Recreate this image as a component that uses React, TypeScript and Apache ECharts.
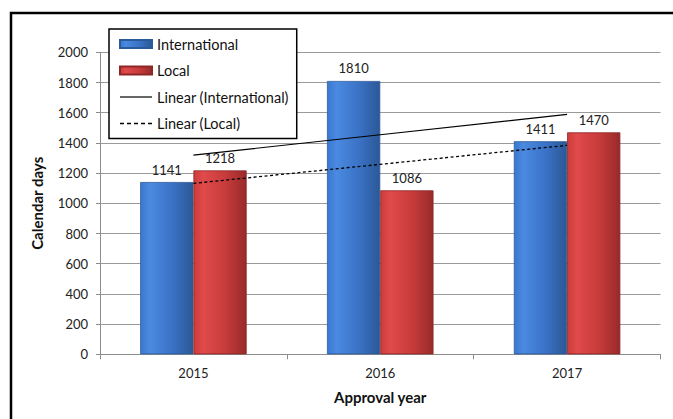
import React, { useEffect, useRef } from "react";
import * as echarts from "echarts";

const years = ["2015", "2016", "2017"];
const international = [1141, 1810, 1411];
const local = [1218, 1086, 1470];
// trend line values at each category centre
const trendInternational = [1319, 1454, 1589];
const trendLocal = [1132, 1258, 1384];
const yTicks = [0, 2000, 200];

const FONT = "Lato";

const blueGrad = new echarts.graphic.LinearGradient(0, 0, 1, 0, [
  { offset: 0, color: "#3a78cf" },
  { offset: 0.18, color: "#4a8ae0" },
  { offset: 0.6, color: "#3a72c6" },
  { offset: 1, color: "#2b5896" },
]);
const redGrad = new echarts.graphic.LinearGradient(0, 0, 1, 0, [
  { offset: 0, color: "#cc3b3b" },
  { offset: 0.18, color: "#e04a4a" },
  { offset: 0.6, color: "#c83b3b" },
  { offset: 1, color: "#982a2a" },
]);

const solidIcon = "path://M0,0H32V1.2H0Z";
const dashedIcon =
  "path://M0,0h4v1.3h-4zM7,0h4v1.3h-4zM14,0h4v1.3h-4zM21,0h4v1.3h-4zM28,0h4v1.3h-4z";

export default function App() {
  const ref = useRef<HTMLDivElement>(null);
  useEffect(() => {
    if (!ref.current) return;
    const chart = echarts.init(ref.current, null, { renderer: "svg" });
    const labelStyle = {
      show: true,
      position: "top",
      distance: 6,
      fontFamily: FONT,
      fontSize: 13,
      color: "#222",
    };
    chart.setOption({
      animation: false,
      backgroundColor: "#fff",
      textStyle: { fontFamily: FONT },
      grid: { left: 100, right: 12.5, top: 52.3, bottom: 64.7 },
      legend: {
        orient: "vertical",
        left: 109,
        top: 29,
        padding: [7, 8, 7, 10],
        itemGap: 10.5,
        itemWidth: 32,
        itemHeight: 8,
        symbolKeepAspect: true,
        backgroundColor: "#fff",
        borderColor: "#000",
        borderWidth: 1.5,
        borderRadius: 0,
        textStyle: { fontFamily: FONT, fontSize: 14.5, color: "#111", lineHeight: 16 },
        data: [
          { name: "International", icon: "rect" },
          { name: "Local", icon: "rect" },
          { name: "Linear (International)", icon: solidIcon },
          { name: "Linear (Local)", icon: dashedIcon },
        ],
      },
      xAxis: {
        type: "category",
        data: years,
        name: "Approval year",
        nameLocation: "middle",
        nameGap: 35,
        nameTextStyle: { fontFamily: FONT, fontSize: 15, fontWeight: "bold", color: "#111" },
        axisLine: { lineStyle: { color: "#8c8c8c", width: 1 } },
        axisTick: { show: true, length: 5, lineStyle: { color: "#8c8c8c" } },
        axisLabel: { margin: 12, fontFamily: FONT, fontSize: 13, color: "#222" },
      },
      yAxis: {
        type: "value",
        min: yTicks[0],
        max: yTicks[1],
        interval: yTicks[2],
        name: "Calendar days",
        nameLocation: "middle",
        nameGap: 56,
        nameRotate: 90,
        nameTextStyle: { fontFamily: FONT, fontSize: 15, fontWeight: "bold", color: "#111" },
        axisLine: { show: true, lineStyle: { color: "#8c8c8c", width: 1 } },
        axisTick: { show: true, length: 4, lineStyle: { color: "#8c8c8c" } },
        axisLabel: {
          margin: 12,
          fontFamily: FONT,
          fontSize: 13,
          color: "#222",
          formatter: (v: number) => String(v),
        },
        splitLine: { lineStyle: { color: "#9a9a9a", width: 1 } },
      },
      series: [
        {
          name: "International",
          type: "bar",
          data: international,
          barGap: "0%",
          barCategoryGap: "43%",
          itemStyle: { color: blueGrad, borderColor: "#2c5a98", borderWidth: 0.8 },
          label: labelStyle,
        },
        {
          name: "Local",
          type: "bar",
          data: local,
          itemStyle: { color: redGrad, borderColor: "#8e2626", borderWidth: 0.8 },
          label: labelStyle,
        },
        {
          name: "Linear (International)",
          type: "line",
          data: trendInternational,
          symbol: "none",
          itemStyle: { color: "#000" },
          lineStyle: { color: "#000", width: 1.2, type: "solid" },
          z: 5,
        },
        {
          name: "Linear (Local)",
          type: "line",
          data: trendLocal,
          symbol: "none",
          itemStyle: { color: "#000" },
          lineStyle: { color: "#000", width: 1.3, type: [3, 2.5] },
          z: 5,
        },
      ],
      graphic: [
        {
          type: "rect",
          shape: { x: 11, y: 13, width: 720, height: 520 },
          style: { fill: "none", stroke: "#000", lineWidth: 2.5 },
          z: 100,
        },
      ],
    });
    return () => chart.dispose();
  }, []);
  return (
    <div
      ref={ref}
      style={{ position: "fixed", left: 0, top: 0, width: 673, height: 419, background: "#fff" }}
    />
  );
}
